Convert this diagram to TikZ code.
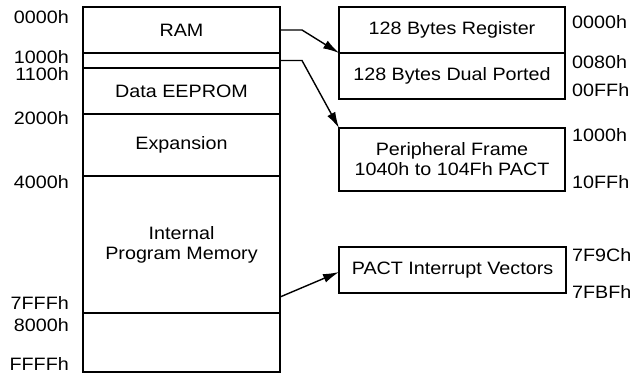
\documentclass[tikz,border=0pt]{standalone}
\usepackage{fontspec}
\setmainfont{Liberation Sans}[FakeStretch=1.1]
\usetikzlibrary{arrows.meta,calc}
\begin{document}
\begin{tikzpicture}[x=1bp,y=-1bp,
  every node/.style={font=\fontsize{18}{20}\selectfont},
  blk/.style={draw, line width=2.2bp, rectangle, inner sep=0pt, outer sep=0pt, align=center},
  addr/.style={inner sep=0pt},
  conn/.style={line width=1.4bp, -{Latex[length=16bp,width=9bp]}}]
\useasboundingbox (0,0) rectangle (636,374);
% left memory map
\node[blk, minimum width=197bp, minimum height=46bp] (ram) at (181.5,30) {RAM};
\node[blk, minimum width=197bp, minimum height=15bp] (gap) at (181.5,60.5) {};
\node[blk, minimum width=197bp, minimum height=46bp] (eeprom) at (181.5,91) {Data EEPROM};
\node[blk, minimum width=197bp, minimum height=62bp] (exp) at (181.5,145) {Expansion};
\node[blk, minimum width=197bp, minimum height=137bp] (ipm) at (181.5,244.5) {Internal\\Program Memory};
\node[blk, minimum width=197bp, minimum height=59bp] (top) at (181.5,342.5) {};
% left addresses
\node[addr, anchor=east] (a0) at (69,17) {0000h};
\node[addr, anchor=east] (a1) at (69,57) {1000h};
\node[addr, anchor=east] (a2) at (69,74) {1100h};
\node[addr, anchor=east] (a3) at (69,118) {2000h};
\node[addr, anchor=east] (a4) at (69,182) {4000h};
\node[addr, anchor=east] (a5) at (69,303) {7FFFh};
\node[addr, anchor=east] (a6) at (69,325) {8000h};
\node[addr, anchor=east] (a7) at (69,364) {FFFFh};
% right boxes
\node[blk, minimum width=226bp, minimum height=46bp] (reg) at (452,30) {128 Bytes Register};
\node[blk, minimum width=226bp, minimum height=46bp] (dual) at (452,76) {128 Bytes Dual Ported};
\node[blk, minimum width=226bp, minimum height=63bp] (per) at (452,159.5) {Peripheral Frame\\1040h to 104Fh PACT};
\node[blk, minimum width=227bp, minimum height=46bp] (pact) at (452.5,270) {PACT Interrupt Vectors};
% right addresses
\node[addr, anchor=west] (b0) at (572,22) {0000h};
\node[addr, anchor=west] (b1) at (572,62) {0080h};
\node[addr, anchor=west] (b2) at (572,90) {00FFh};
\node[addr, anchor=west] (b3) at (572,135) {1000h};
\node[addr, anchor=west] (b4) at (572,182) {10FFh};
\node[addr, anchor=west] (b5) at (572,255) {7F9Ch};
\node[addr, anchor=west] (b6) at (572,292) {7FBFh};
% connectors
\coordinate (c3) at ($(ipm.south east)+(0,-16)$);
\draw[conn] (ram.east) -- ++(22,0) -- (dual.north west);
\draw[conn] (gap.east) -- ++(22,0) -- (per.north west);
\draw[conn] (c3) -- ([yshift=-2bp]pact.west);
\end{tikzpicture}
\end{document}
